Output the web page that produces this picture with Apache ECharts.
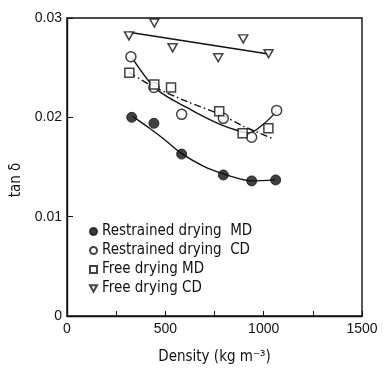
<!DOCTYPE html>
<html>
<head>
<meta charset="utf-8">
<script src="https://cdn.jsdelivr.net/npm/echarts@6/dist/echarts.min.js"></script>
<style>
  html, body { margin: 0; padding: 0; background: #fff; }
  #chart { width: 387px; height: 370px; }
</style>
</head>
<body>
<div id="chart"></div>
<script>
// measured points: [density kg/m3, tan delta]
const restrainedMD = [[329, 0.0200], [442, 0.0194], [583, 0.0163], [795, 0.0142], [939, 0.0136], [1061, 0.0137]];
const restrainedCD = [[325, 0.0261], [442, 0.0230], [583, 0.0203], [795, 0.0199], [939, 0.0180], [1066, 0.0207]];
const freeMD = [[317, 0.0245], [444, 0.0233], [529, 0.0230], [774, 0.0206], [893, 0.0184], [1024, 0.0189]];
const freeCD = [[315, 0.0282], [444, 0.0295], [537, 0.0270], [769, 0.0260], [896, 0.0279], [1025, 0.0264]];

// fitted curves as drawn
const fitRestrainedMD = [[334, 0.0201], [420, 0.0189], [500, 0.0177], [580, 0.0164], [693, 0.0151], [795, 0.0143], [880, 0.0138], [939, 0.0136], [1058, 0.0137]];
const fitRestrainedCD = [[330, 0.0260], [439, 0.0231], [524, 0.0219], [609, 0.0210], [693, 0.0201], [778, 0.0193], [863, 0.0187], [925, 0.0184], [998, 0.0193], [1066, 0.0206]];
const fitFreeMD = [[317, 0.0245], [439, 0.0231], [609, 0.0216], [778, 0.0203], [897, 0.0191], [1041, 0.0179]];
const fitFreeCD = [[315, 0.02857], [1025, 0.02637]];

const legendNames = ["Restrained drying  MD", "Restrained drying  CD", "Free drying MD", "Free drying CD"];

const chart = echarts.init(document.getElementById("chart"));
const ink = "#111";
const textFont = "'DejaVu Sans Condensed', 'DejaVu Sans', sans-serif";
const downTriangle = "path://M0,0 L10,0 L5,9 Z";

function fitLine(data, dash) {
  return {
    type: "line",
    data: data,
    smooth: 0.3,
    showSymbol: false,
    silent: true,
    lineStyle: { color: ink, width: 1.4, type: dash || "solid" },
    z: 1
  };
}

const option = {
  animation: false,
  backgroundColor: "#fff",
  grid: {
    left: 67, top: 18, right: 25, bottom: 52,
    show: true, borderColor: ink, borderWidth: 1.4
  },
  xAxis: {
    type: "value",
    min: 0, max: 1500, interval: 250,
    name: "Density (kg m⁻³)",
    nameLocation: "middle",
    nameGap: 34,
    nameTextStyle: { color: ink, fontSize: 15, fontFamily: textFont },
    axisLine: { lineStyle: { color: ink, width: 1.4 } },
    axisTick: { inside: true, length: 5, lineStyle: { color: ink } },
    axisLabel: {
      color: ink, fontSize: 14, fontFamily: "'Liberation Sans', Arial, sans-serif", margin: 6,
      formatter: v => (v % 500 === 0 ? String(v) : "")
    },
    splitLine: { show: false }
  },
  yAxis: {
    type: "value",
    min: 0, max: 0.03, interval: 0.01,
    name: "tan δ",
    nameLocation: "middle",
    nameGap: 40,
    nameTextStyle: { color: ink, fontSize: 15, fontFamily: textFont, padding: [0, 0, 0, -26] },
    axisLine: { lineStyle: { color: ink, width: 1.4 } },
    axisTick: { inside: true, length: 6, lineStyle: { color: ink } },
    axisLabel: {
      color: ink, fontSize: 14, fontFamily: "'Liberation Sans', Arial, sans-serif", margin: 5,
      formatter: v => (v === 0 ? "0" : v.toFixed(2))
    },
    splitLine: { show: false }
  },
  legend: {
    orient: "vertical",
    left: 84, top: 219,
    itemWidth: 7, itemHeight: 7, itemGap: 4,
    textStyle: { color: ink, fontSize: 15, fontFamily: textFont, padding: [0, 0, 0, 0] },
    data: [
      { name: legendNames[0], icon: "circle" },
      { name: legendNames[1], icon: "circle" },
      { name: legendNames[2], icon: "rect" },
      { name: legendNames[3], icon: downTriangle }
    ]
  },
  series: [
    fitLine(fitRestrainedMD),
    fitLine(fitRestrainedCD),
    fitLine(fitFreeMD, [7, 3, 1.5, 3]),
    fitLine(fitFreeCD),
    {
      name: legendNames[0], type: "scatter", data: restrainedMD,
      symbol: "circle", symbolSize: 10,
      itemStyle: { color: ink, borderColor: ink, borderWidth: 1 }, z: 3
    },
    {
      name: legendNames[1], type: "scatter", data: restrainedCD,
      symbol: "circle", symbolSize: 10,
      itemStyle: { color: "#fff", borderColor: ink, borderWidth: 1.5 }, z: 3
    },
    {
      name: legendNames[2], type: "scatter", data: freeMD,
      symbol: "rect", symbolSize: 9,
      itemStyle: { color: "#fff", borderColor: ink, borderWidth: 1.5 }, z: 3
    },
    {
      name: legendNames[3], type: "scatter", data: freeCD,
      symbol: downTriangle, symbolSize: [9, 8],
      itemStyle: { color: "#fff", borderColor: ink, borderWidth: 1.5 }, z: 3
    }
  ]
};
chart.setOption(option);
</script>
</body>
</html>
